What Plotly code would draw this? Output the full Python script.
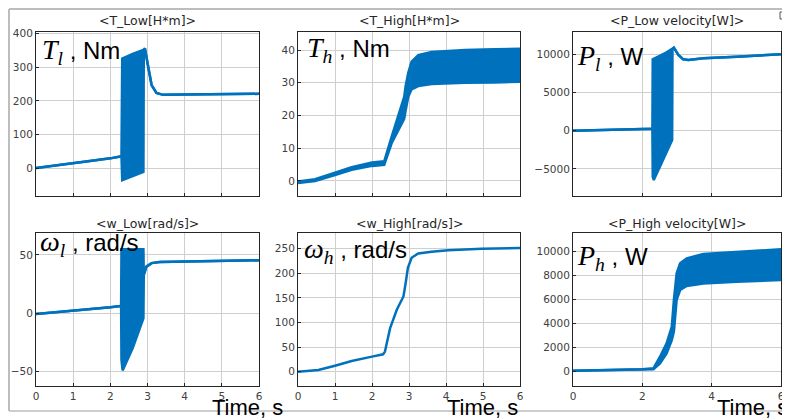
import plotly.graph_objects as go

# The page body has an 8px margin, so the figure is made 8px smaller and every
# screen position below is converted to figure coordinates with that offset.
SCREEN_W, SCREEN_H = 790, 420
OFF = 8
FW, FH = SCREEN_W - OFF, SCREEN_H - OFF
BLUE = "rgb(0,114,189)"

# ---------------- data ----------------
# T_Low [N*m]: envelope of the signal (upper / lower)
t_tl = [0, 0.5, 1.0, 1.5, 2.0, 2.30, 2.32, 2.60, 2.89, 2.90, 2.93, 3.02, 3.11, 3.24, 3.42, 4.0, 5.0, 6.0]
tl_up = [0, 8, 15, 22, 29, 35, 326, 340, 352, 354, 356, 301, 247, 224, 218, 219, 220, 221]
tl_lo = [0, 8, 15, 22, 29, 35, -36, -23, -11, 352, 356, 301, 247, 224, 218, 219, 220, 221]

# T_High [N*m]
t_th = [0, 0.46, 1.0, 1.45, 2.0, 2.33, 2.53, 2.71, 2.87, 2.91, 2.98, 3.07, 3.25, 3.61, 4.51, 5.3, 6.0]
th_up = [-0.2, 0.5, 2.5, 4.2, 5.6, 6.0, 13.5, 20.0, 25.7, 29.0, 33.0, 36.4, 38.4, 39.4, 40.0, 40.2, 40.4]
th_lo = [-0.6, 0.0, 1.8, 3.4, 4.6, 4.9, 11.5, 15.5, 19.0, 21.6, 25.7, 28.0, 29.0, 29.6, 30.0, 30.1, 30.3]

# P_Low velocity [W]
t_pl = [0, 1.0, 2.0, 2.29, 2.30, 2.33, 2.50, 2.70, 2.86, 2.87, 2.91, 3.04, 3.18, 3.33, 3.76, 4.72, 6.0]
pl_up = [0, 80, 170, 250, 9345, 9400, 9800, 10250, 10650, 10680, 10870, 9913, 9345, 9260, 9476, 9694, 10000]
pl_lo = [0, 80, 170, 250, -6000, -6460, -4780, -2800, -1220, 10680, 10870, 9913, 9345, 9260, 9476, 9694, 10000]

# w_Low [rad/s]
t_wl = [0, 1.0, 2.0, 2.29, 2.30, 2.33, 2.60, 2.89, 2.90, 2.97, 3.11, 3.33, 4.41, 5.2, 6.0]
wl_up = [-0.5, 2.0, 5.1, 6.3, 54.9, 54.9, 54.9, 54.9, 33.0, 40.0, 43.0, 44.0, 44.6, 45.0, 45.4]
wl_lo = [-0.5, 2.0, 5.1, 6.3, -40.0, -49.0, -30.0, -4.3, 33.0, 40.0, 43.0, 44.0, 44.6, 45.0, 45.4]

# w_High [rad/s]
t_wh = [0, 0.55, 1.0, 1.45, 2.0, 2.3, 2.35, 2.49, 2.67, 2.85, 2.91, 2.97, 3.07, 3.25, 3.61, 4.06, 4.96, 6.0]
wh_v = [0, 3.4, 12.3, 21.8, 30.7, 35.4, 40.9, 88.6, 126, 153, 180.5, 211, 231.6, 240.5, 243.9, 247, 250, 251.4]

# P_High velocity [W]
t_ph = [0, 1.0, 2.0, 2.32, 2.51, 2.70, 2.85, 2.91, 2.99, 3.09, 3.28, 3.76, 4.72, 6.0]
ph_up = [30, 80, 140, 220, 1190, 2300, 3690, 5900, 8140, 8970, 9390, 9750, 9940, 10140]
ph_lo = [30, 60, 120, 150, 640, 1470, 2580, 3280, 5920, 6750, 7080, 7300, 7440, 7580]

titles = ["<T_Low[H*m]>", "<T_High[H*m]>", "<P_Low velocity[W]>",
          "<w_Low[rad/s]>", "<w_High[rad/s]>", "<P_High velocity[W]>"]
y_ticks = [[0, 100, 200, 300, 400], [0, 10, 20, 30, 40], [-5000, 0, 5000, 10000],
           [-50, 0, 50], [0, 50, 100, 150, 200, 250], [0, 2000, 4000, 6000, 8000, 10000]]
y_ranges = [[-83, 405], [-4.6, 45.5], [-8550, 12920],
            [-62.3, 68.8], [-29, 282], [-1250, 11500]]
x_ticks_narrow = [0, 1, 2, 3, 4, 5, 6]
x_ticks_wide = [0, 2, 4, 6]
labels = ["<i>T</i><sub><i>l</i></sub>", "<i>T</i><sub><i>h</i></sub>", "<i>P</i><sub><i>l</i></sub>",
          "<i>ω</i><sub><i>l</i></sub>", "<i>ω</i><sub><i>h</i></sub>", "<i>P</i><sub><i>h</i></sub>"]
units = [" , Nm", " , Nm", " , W", " , rad/s", " , rad/s", " , W"]
xlabel = "Time, s"

# ---------------- layout geometry (screen pixels) ----------------
cols_px = [(36, 259), (298, 520), (573, 781)]
rows_px = [(32, 196), (233, 386)]
label_pos = [(40, 52), (305, 50), (575, 58), (38, 243), (302, 251), (575, 258)]


def px(x):
    return (x - OFF) / FW


def py(y):
    return 1 - (y - OFF) / FH


fig = go.Figure()

bands = [(t_tl, tl_up, tl_lo), (t_th, th_up, th_lo), (t_pl, pl_up, pl_lo),
         (t_wl, wl_up, wl_lo), None, (t_ph, ph_up, ph_lo)]

for i in range(6):
    ax = "" if i == 0 else str(i + 1)
    xref, yref = "x" + ax, "y" + ax
    if bands[i] is not None:
        t, up, lo = bands[i]
        fig.add_trace(go.Scatter(x=t, y=up, mode="lines", line=dict(color=BLUE, width=2.5),
                                 xaxis=xref, yaxis=yref, showlegend=False, hoverinfo="skip"))
        fig.add_trace(go.Scatter(x=t, y=lo, mode="lines", line=dict(color=BLUE, width=2.5),
                                 fill="tonexty", fillcolor=BLUE,
                                 xaxis=xref, yaxis=yref, showlegend=False, hoverinfo="skip"))
    else:
        fig.add_trace(go.Scatter(x=t_wh, y=wh_v, mode="lines", line=dict(color=BLUE, width=2.5),
                                 xaxis=xref, yaxis=yref, showlegend=False, hoverinfo="skip"))

layout = dict(width=FW, height=FH, margin=dict(l=0, r=0, t=0, b=0), template="none",
              paper_bgcolor="white", plot_bgcolor="white", showlegend=False)
annotations = []
shapes = []
for i in range(6):
    r, c = divmod(i, 3)
    x0, x1 = cols_px[c]
    y0, y1 = rows_px[r]
    ax = "" if i == 0 else str(i + 1)
    xt = x_ticks_wide if c == 2 else x_ticks_narrow
    common = dict(showline=True, mirror=True, linecolor="#262626", linewidth=1,
                  showgrid=True, gridcolor="#cfcfcf", gridwidth=1, zeroline=False,
                  automargin=False, tickformat="d",
                  ticks="inside", ticklen=3, tickcolor="#262626",
                  tickfont=dict(family="DejaVu Sans", size=10.5, color="#404040"))
    layout["xaxis" + ax] = dict(domain=[px(x0), px(x1)], range=[0, 6], tickvals=xt,
                                showticklabels=(r == 1), anchor="y" + ax, **common)
    layout["yaxis" + ax] = dict(domain=[py(y1), py(y0)], range=y_ranges[i], tickvals=y_ticks[i],
                                anchor="x" + ax, **common)
    # title
    annotations.append(dict(text=titles[i], x=px((x0 + x1) / 2), y=py(21 if r == 0 else 223),
                            xref="paper", yref="paper", showarrow=False, xanchor="center",
                            yanchor="middle", font=dict(family="DejaVu Sans", size=12.5, color="#262626")))
    # big quantity label
    lx, ly = label_pos[i]
    annotations.append(dict(
        text="<span style='font-family:Liberation Serif;font-size:28px'>" + labels[i] + "</span>" + units[i],
        x=px(lx), y=py(ly), xref="paper", yref="paper", showarrow=False,
        xanchor="left", yanchor="middle",
        font=dict(family="Liberation Sans", size=24, color="black")))

for cx in [247, 482, 752]:
    annotations.append(dict(text=xlabel, x=px(cx), y=py(407), xref="paper", yref="paper",
                            showarrow=False, xanchor="center", yanchor="middle",
                            font=dict(family="Liberation Sans", size=22, color="black")))

# outer frame of the scope window
frame = "#bdbdbd"
shapes.append(dict(type="line", xref="paper", yref="paper", x0=px(9), x1=1, y0=py(9), y1=py(9),
                   line=dict(color=frame, width=2)))
shapes.append(dict(type="line", xref="paper", yref="paper", x0=px(9), x1=px(9), y0=py(9), y1=py(411),
                   line=dict(color=frame, width=2)))
shapes.append(dict(type="line", xref="paper", yref="paper", x0=px(9), x1=1, y0=py(411), y1=py(411),
                   line=dict(color=frame, width=1.5)))
shapes.append(dict(type="rect", xref="paper", yref="paper", x0=px(780), x1=px(788), y0=py(19), y1=py(12),
                   line=dict(color="#555555", width=1)))

layout["annotations"] = annotations
layout["shapes"] = shapes
fig.update_layout(**layout)
fig.write_html("out.html")
